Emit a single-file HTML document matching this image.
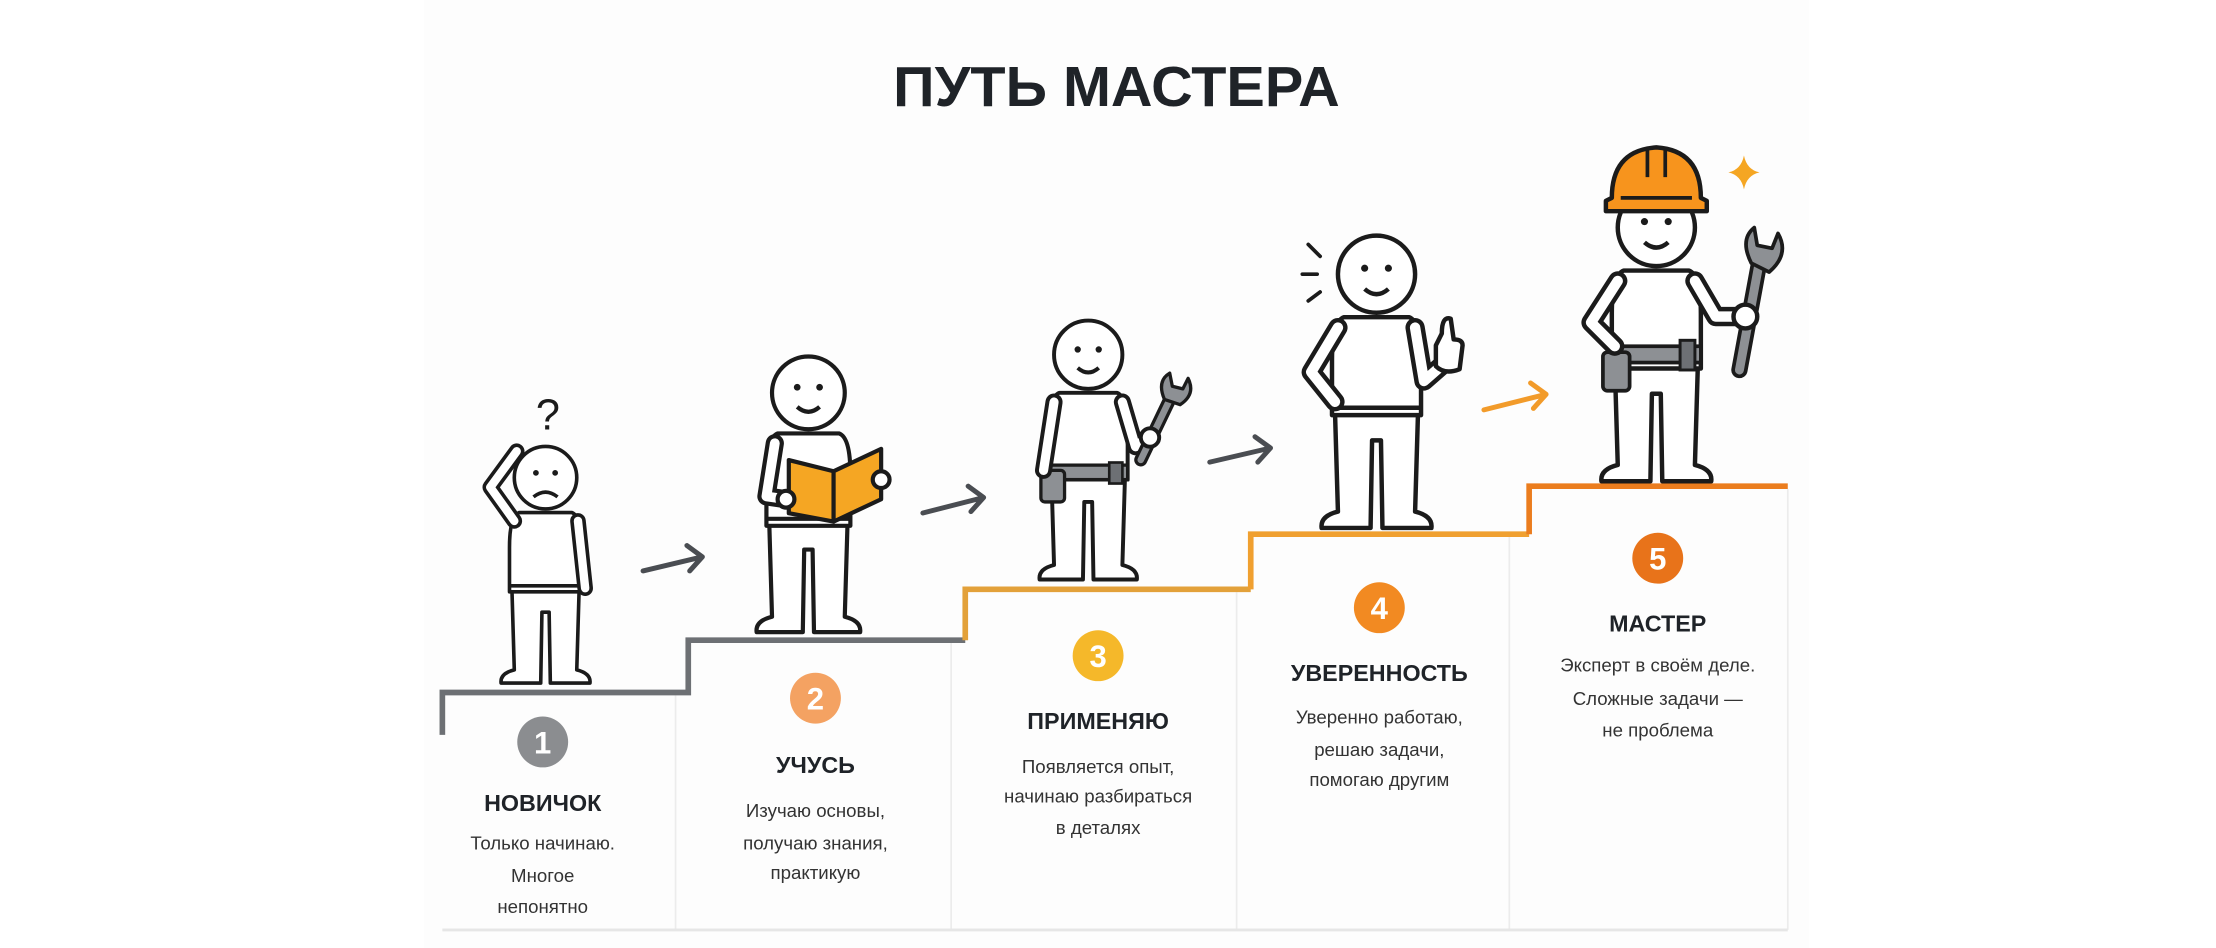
<!DOCTYPE html>
<html><head><meta charset="utf-8"><style>
html,body{margin:0;padding:0;background:#fff;}
svg{display:block;}
text{font-family:"Liberation Sans",sans-serif;}
</style></head><body>
<svg width="2216" height="948" viewBox="0 0 1568 670.8" xmlns="http://www.w3.org/2000/svg">
<rect width="1568" height="671" fill="#fff"/>
<rect x="300" y="0" width="980" height="671" fill="#fdfdfd"/>
<defs>
<g id="base" stroke="#1b1b1b" stroke-width="3" stroke-linejoin="round" fill="#fff">
 <path d="M-28,92 L-26,160 Q-38,163 -37,171 L-4,171 L-3,112 L3,112 L4,171 L37,171 Q38,163 26,160 L28,92 Z"/>
 <path d="M-22,29 Q-30,32 -30,58 L-30,95 L30,95 L30,58 Q30,32 22,29 Z"/>
 <line x1="-29" y1="90" x2="29" y2="90"/>
 <circle cx="0" cy="0" r="26"/>
 <circle cx="-8" cy="-4" r="2.4" fill="#1b1b1b" stroke="none"/>
 <circle cx="8" cy="-4" r="2.4" fill="#1b1b1b" stroke="none"/>
</g>
</defs>

<text x="790" y="75" text-anchor="middle" font-size="40" font-weight="bold" fill="#1f2328" textLength="316" lengthAdjust="spacingAndGlyphs">ПУТЬ МАСТЕРА</text>

<g stroke="#ececec" stroke-width="1.2">
<line x1="478" y1="492" x2="478" y2="658"/>
<line x1="673" y1="455" x2="673" y2="658"/>
<line x1="875" y1="419" x2="875" y2="658"/>
<line x1="1068" y1="380" x2="1068" y2="658"/>
<line x1="1265" y1="346" x2="1265" y2="658"/>
</g>
<line x1="313" y1="658" x2="1265" y2="658" stroke="#e6e6e6" stroke-width="2"/>

<path d="M313,520 L313,490 L487,490 L487,453 L683,453" fill="none" stroke="#6d7074" stroke-width="4"/>
<path d="M683,453 L683,417 L885,417" fill="none" stroke="#e3a13a" stroke-width="4"/>
<path d="M885,417 L885,378 L1082,378" fill="none" stroke="#f0a030" stroke-width="4"/>
<path d="M1082,378 L1082,344 L1265,344" fill="none" stroke="#eb7d1e" stroke-width="4"/>

<g fill="none" stroke-width="3.5" stroke-linecap="round" stroke-linejoin="round">
<g stroke="#4a4d52">
<path d="M455,404 L497,394 M486,386 L497,394 L488,404"/>
<path d="M653,363 L696,352 M685,344 L696,352 L687,362"/>
<path d="M856,327 L899,317 M888,309 L899,317 L890,327"/>
</g>
<path stroke="#f29b2a" d="M1050,290 L1094,279 M1083,271 L1094,279 L1085,289"/>
</g>

<g font-weight="bold" font-size="22" text-anchor="middle" fill="#fff">
<circle cx="384" cy="525" r="18" fill="#8b8d90"/><text x="384" y="533">1</text>
<circle cx="577" cy="494" r="18" fill="#f4a262"/><text x="577" y="502">2</text>
<circle cx="777" cy="464" r="18" fill="#f5b82a"/><text x="777" y="472">3</text>
<circle cx="976" cy="430" r="18" fill="#f28a22"/><text x="976" y="438">4</text>
<circle cx="1173" cy="395" r="18" fill="#e8731a"/><text x="1173" y="403">5</text>
</g>

<g font-weight="bold" font-size="16.5" text-anchor="middle" fill="#1f2328">
<text x="384" y="574">НОВИЧОК</text>
<text x="577" y="547">УЧУСЬ</text>
<text x="777" y="516">ПРИМЕНЯЮ</text>
<text x="976" y="482">УВЕРЕННОСТЬ</text>
<text x="1173" y="447">МАСТЕР</text>
</g>
<g font-size="13.2" text-anchor="middle" fill="#333">
<text x="384" y="601">Только начинаю.</text>
<text x="384" y="624">Многое</text>
<text x="384" y="646">непонятно</text>
<text x="577" y="578">Изучаю основы,</text>
<text x="577" y="601">получаю знания,</text>
<text x="577" y="622">практикую</text>
<text x="777" y="547">Появляется опыт,</text>
<text x="777" y="568">начинаю разбираться</text>
<text x="777" y="590">в деталях</text>
<text x="976" y="512">Уверенно работаю,</text>
<text x="976" y="535">решаю задачи,</text>
<text x="976" y="556">помогаю другим</text>
<text x="1173" y="475">Эксперт в своём деле.</text>
<text x="1173" y="499">Сложные задачи —</text>
<text x="1173" y="521">не проблема</text>
</g>

<!-- Figure 1 -->
<g transform="translate(386,338) scale(0.85)">
 <use href="#base"/>
 <path d="M-10,16 Q0,8 10,16" fill="none" stroke="#1b1b1b" stroke-width="3"/>
 <path d="M-26,36 L-46,8 L-24,-22" fill="none" stroke="#1b1b1b" stroke-width="13" stroke-linecap="round" stroke-linejoin="round"/>
 <path d="M-26,36 L-46,8 L-24,-22" fill="none" stroke="#fff" stroke-width="7" stroke-linecap="round" stroke-linejoin="round"/>
 <path d="M27,36 L33,92" fill="none" stroke="#1b1b1b" stroke-width="13" stroke-linecap="round"/>
 <path d="M27,36 L33,92" fill="none" stroke="#fff" stroke-width="7" stroke-linecap="round"/>
 <text x="2" y="-40" font-size="36" text-anchor="middle" fill="#1b1b1b">?</text>
</g>

<!-- Figure 2 -->
<g transform="translate(572,278) scale(0.99)">
 <use href="#base"/>
 <path d="M-8,10 Q0,17 8,10" fill="none" stroke="#1b1b1b" stroke-width="3"/>
 <path d="M-24,36 L-30,74 L-16,76" fill="none" stroke="#1b1b1b" stroke-width="13" stroke-linecap="round" stroke-linejoin="round"/>
 <path d="M-24,36 L-30,74 L-16,76" fill="none" stroke="#fff" stroke-width="7" stroke-linecap="round" stroke-linejoin="round"/>
 <path d="M-14,48 L18,56 L18,92 L-14,86 Z" fill="#f5a623" stroke="#1b1b1b" stroke-width="3" stroke-linejoin="round"/>
 <path d="M18,56 L52,40 L52,76 L18,92 Z" fill="#f5a623" stroke="#1b1b1b" stroke-width="3" stroke-linejoin="round"/>
 <circle cx="-16" cy="76" r="6" fill="#fff" stroke="#1b1b1b" stroke-width="3"/>
 <circle cx="52" cy="62" r="6" fill="#fff" stroke="#1b1b1b" stroke-width="3"/>
</g>

<!-- Figure 3 -->
<g transform="translate(770,251) scale(0.93)">
 <use href="#base"/>
 <path d="M-8,10 Q0,17 8,10" fill="none" stroke="#1b1b1b" stroke-width="3"/>
 <rect x="-30" y="84" width="60" height="11" fill="#8d9094" stroke="#1b1b1b" stroke-width="2.5"/>
 <rect x="-36" y="88" width="18" height="24" rx="3" fill="#8d9094" stroke="#1b1b1b" stroke-width="2.5"/>
 <rect x="16" y="82" width="10" height="16" fill="#6d7074" stroke="#1b1b1b" stroke-width="2"/>
 <path d="M-26,36 L-34,88" fill="none" stroke="#1b1b1b" stroke-width="13" stroke-linecap="round"/>
 <path d="M-26,36 L-34,88" fill="none" stroke="#fff" stroke-width="7" stroke-linecap="round"/>
 <path d="M26,36 L36,70 L46,62" fill="none" stroke="#1b1b1b" stroke-width="13" stroke-linecap="round" stroke-linejoin="round"/>
 <path d="M26,36 L36,70 L46,62" fill="none" stroke="#fff" stroke-width="7" stroke-linecap="round" stroke-linejoin="round"/>
 <path d="M40,80 L64,30" stroke="#1b1b1b" stroke-width="10" stroke-linecap="round"/>
 <path d="M40,80 L64,30" stroke="#8d9094" stroke-width="5" stroke-linecap="round"/>
 <path d="M58,34 Q52,20 62,14 L64,24 L72,26 L76,18 Q82,30 70,38 Z" fill="#8d9094" stroke="#1b1b1b" stroke-width="2.5" stroke-linejoin="round"/>
 <circle cx="47" cy="63" r="7" fill="#fff" stroke="#1b1b1b" stroke-width="3"/>
</g>

<!-- Figure 4 -->
<g transform="translate(974,194) scale(1.05)">
 <use href="#base"/>
 <path d="M-8,10 Q0,17 8,10" fill="none" stroke="#1b1b1b" stroke-width="3"/>
 <path d="M-26,36 L-44,66 L-28,86" fill="none" stroke="#1b1b1b" stroke-width="13" stroke-linecap="round" stroke-linejoin="round"/>
 <path d="M-26,36 L-44,66 L-28,86" fill="none" stroke="#fff" stroke-width="7" stroke-linecap="round" stroke-linejoin="round"/>
 <path d="M26,36 L32,72 L48,58" fill="none" stroke="#1b1b1b" stroke-width="13" stroke-linecap="round" stroke-linejoin="round"/>
 <path d="M26,36 L32,72 L48,58" fill="none" stroke="#fff" stroke-width="7" stroke-linecap="round" stroke-linejoin="round"/>
 <path d="M40,48 L40,62 Q46,68 56,64 L58,48 Q58,44 52,44 L50,30 Q44,28 44,40 Z" fill="#fff" stroke="#1b1b1b" stroke-width="3" stroke-linejoin="round"/>
 <g stroke="#1b1b1b" stroke-width="2.5" stroke-linecap="round"><path d="M-46,-20 L-38,-12 M-50,0 L-40,0 M-46,18 L-38,12"/></g>
</g>

<!-- Figure 5 -->
<g transform="translate(1172,161) scale(1.05)">
 <use href="#base"/>
 <path d="M-8,10 Q0,17 8,10" fill="none" stroke="#1b1b1b" stroke-width="3"/>
 <path d="M-30,-20 Q-30,-52 0,-54 Q30,-52 30,-20 L34,-18 L34,-11 L-34,-11 L-34,-18 Z" fill="#f7941d" stroke="#1b1b1b" stroke-width="3" stroke-linejoin="round"/>
 <path d="M-6,-52 L-6,-34 M6,-52 L6,-34 M-24,-20 L24,-20" stroke="#1b1b1b" stroke-width="2.5"/>
 <rect x="-30" y="80" width="60" height="11" fill="#8d9094" stroke="#1b1b1b" stroke-width="2.5"/>
 <rect x="-36" y="84" width="18" height="26" rx="3" fill="#8d9094" stroke="#1b1b1b" stroke-width="2.5"/>
 <rect x="16" y="76" width="10" height="20" fill="#6d7074" stroke="#1b1b1b" stroke-width="2"/>
 <path d="M-26,36 L-44,64 L-28,80" fill="none" stroke="#1b1b1b" stroke-width="13" stroke-linecap="round" stroke-linejoin="round"/>
 <path d="M-26,36 L-44,64 L-28,80" fill="none" stroke="#fff" stroke-width="7" stroke-linecap="round" stroke-linejoin="round"/>
 <path d="M26,36 L40,60 L58,60" fill="none" stroke="#1b1b1b" stroke-width="13" stroke-linecap="round" stroke-linejoin="round"/>
 <path d="M26,36 L40,60 L58,60" fill="none" stroke="#fff" stroke-width="7" stroke-linecap="round" stroke-linejoin="round"/>
 <path d="M56,96 L70,20" stroke="#1b1b1b" stroke-width="11" stroke-linecap="round"/>
 <path d="M56,96 L70,20" stroke="#8d9094" stroke-width="6" stroke-linecap="round"/>
 <path d="M64,24 Q56,8 66,0 L68,12 L78,14 L82,4 Q90,18 76,30 Z" fill="#8d9094" stroke="#1b1b1b" stroke-width="2.5" stroke-linejoin="round"/>
 <circle cx="60" cy="60" r="8" fill="#fff" stroke="#1b1b1b" stroke-width="3"/>
</g>
<path d="M1234,110 Q1236,120 1245,122 Q1236,124 1234,134 Q1232,124 1223,122 Q1232,120 1234,110 Z" fill="#f5a623"/>
</svg>
</body></html>
